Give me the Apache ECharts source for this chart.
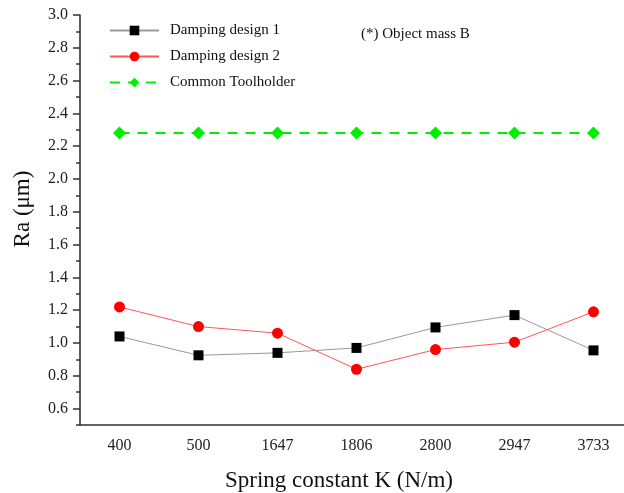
<!DOCTYPE html>
<html>
<head>
<meta charset="utf-8">
<script src="https://cdn.jsdelivr.net/npm/echarts@6/dist/echarts.min.js"></script>
<style>
  html, body { margin: 0; padding: 0; background: #fff; }
  #chart { width: 624px; height: 493px; }
</style>
</head>
<body>
<div id="chart"></div>
<script>
// spring constants on the x axis
var springK = ["400", "500", "1647", "1806", "2800", "2947", "3733"];
// Ra values
var design1 = [1.04, 0.925, 0.94, 0.97, 1.095, 1.17, 0.955];
var design2 = [1.22, 1.10, 1.06, 0.84, 0.96, 1.005, 1.19];
var toolholder = [2.28, 2.28, 2.28, 2.28, 2.28, 2.28, 2.28];

var serif = "Liberation Serif, Times New Roman, serif";
var axisColor = "#333";

var chart = echarts.init(document.getElementById("chart"));

var option = {
  animation: false,
  textStyle: { fontFamily: serif },
  grid: [
    { left: 80, width: 553, top: 15, bottom: 68, outerBoundsMode: "none" },
    // label grid: 0.6 .. 3.0, one 0.1-step above the axis bottom
    { left: 80, width: 553, top: 15, bottom: 84.4, outerBoundsMode: "none" }
  ],
  legend: {
    orient: "vertical",
    left: 104,
    top: 18,
    itemWidth: 49,
    itemHeight: 12,
    itemGap: 11,
    textStyle: { fontFamily: serif, fontSize: 15, color: "#111", padding: [0, 0, 0, 6] },
    data: ["Damping design 1", "Damping design 2", "Common Toolholder"]
  },
  graphic: [
    {
      type: "text",
      left: 361,
      top: 27,
      style: { text: "(*) Object mass B", font: "15px " + serif, fill: "#111" }
    }
  ],
  xAxis: [
    {
      type: "category",
      gridIndex: 0,
      data: springK,
      name: "Spring constant K (N/m)",
      nameLocation: "middle",
      nameGap: 44,
      nameTextStyle: { fontFamily: serif, fontSize: 23, color: "#111", padding: [0, 35, 0, 0] },
      axisLine: { lineStyle: { color: axisColor, width: 1.6 } },
      axisTick: { alignWithLabel: true, length: 7, lineStyle: { color: axisColor, width: 1.5 } },
      axisLabel: { fontFamily: serif, fontSize: 16, color: "#222", margin: 13 },
      splitLine: { show: false }
    },
    {
      // short ticks at category boundaries
      type: "category",
      gridIndex: 0,
      data: springK,
      position: "bottom",
      axisLine: { show: false },
      axisTick: { length: 4, lineStyle: { color: axisColor, width: 1.5 } },
      axisLabel: { show: false },
      splitLine: { show: false }
    },
    {
      type: "category",
      gridIndex: 1,
      data: springK,
      show: false
    }
  ],
  yAxis: [
    {
      type: "value",
      gridIndex: 0,
      min: 0.5,
      max: 3.0,
      interval: 0.1,
      name: "Ra (\u03bcm)",
      nameLocation: "middle",
      nameGap: 46,
      nameTextStyle: { fontFamily: serif, fontSize: 23, color: "#111", padding: [0, 0, 0, 22] },
      axisLine: { show: true, lineStyle: { color: axisColor, width: 1.6 } },
      axisTick: { show: true, length: 4, lineStyle: { color: axisColor, width: 1.5 } },
      axisLabel: { show: false },
      splitLine: { show: false }
    },
    {
      type: "value",
      gridIndex: 1,
      min: 0.6,
      max: 3.0,
      interval: 0.2,
      axisLine: { show: false },
      axisTick: { show: true, length: 7, lineStyle: { color: axisColor, width: 1.5 } },
      axisLabel: {
        fontFamily: serif,
        fontSize: 16,
        color: "#222",
        margin: 12,
        formatter: function (v) { return v.toFixed(1); }
      },
      splitLine: { show: false }
    }
  ],
  series: [
    {
      name: "Damping design 1",
      type: "line",
      data: design1,
      symbol: "rect",
      symbolSize: 10,
      itemStyle: { color: "#000" },
      lineStyle: { color: "#999", width: 1 },
      z: 3
    },
    {
      name: "Damping design 2",
      type: "line",
      data: design2,
      symbol: "circle",
      symbolSize: 11,
      itemStyle: { color: "#ff0000" },
      lineStyle: { color: "#ff5555", width: 1 },
      z: 3
    },
    {
      name: "Common Toolholder",
      type: "line",
      data: toolholder,
      symbol: "diamond",
      symbolSize: 13,
      itemStyle: { color: "#00ee00" },
      lineStyle: { color: "#00ee00", width: 2, type: [10, 8] },
      z: 2
    }
  ]
};

chart.setOption(option);
</script>
</body>
</html>
